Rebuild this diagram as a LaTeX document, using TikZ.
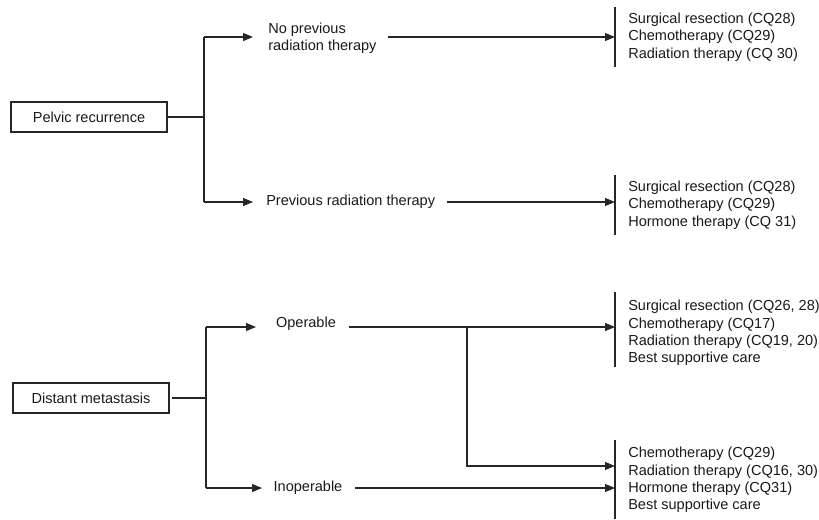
\documentclass[tikz,border=0pt]{standalone}
\usepackage{fontspec}
\setmainfont{Liberation Sans}
\usetikzlibrary{arrows.meta}
\begin{document}
\begin{tikzpicture}[x=0.75pt,y=-0.75pt,
  ln/.style={draw=black!85,line width=0.8pt},
  arr/.style={ln,-{Triangle[length=7.5pt,width=6pt]}},
  box/.style={draw=black!85,line width=0.8pt,minimum width=117pt,minimum height=22.5pt,inner sep=0pt,font=\fontsize{10.9}{13.1}\selectfont,text=black!90},
  lbl/.style={inner sep=0pt,align=left,font=\fontsize{10.9}{13.1}\selectfont,text=black!90}]
\useasboundingbox (0,0) rectangle (819,519);
% ---------- Pelvic recurrence ----------
\node[box] (pelvic) at (89,117) {Pelvic recurrence};
\coordinate (pj) at (204,117);
\coordinate (pt) at (204,37);
\coordinate (pb) at (204,202);
\coordinate (pta) at (253,37);
\coordinate (pba) at (253,202);
\node[lbl,anchor=west] (nprt) at (268,38) {No previous\\radiation therapy};
\node[lbl,anchor=west] (prt) at (266,202) {Previous radiation therapy};
\coordinate (l1s) at (388,37);
\coordinate (l1e) at (615,37);
\coordinate (l2s) at (447,202);
\coordinate (l2e) at (615,202);
\coordinate (b1t) at (615,7);
\coordinate (b1b) at (615,67);
\coordinate (b2t) at (615,175);
\coordinate (b2b) at (615,235);
\node[lbl,anchor=west] (r1) at (628,37) {Surgical resection (CQ28)\\Chemotherapy (CQ29)\\Radiation therapy (CQ 30)};
\node[lbl,anchor=west] (r2) at (628,205) {Surgical resection (CQ28)\\Chemotherapy (CQ29)\\Hormone therapy (CQ 31)};
\draw[ln] (pelvic.east) -- (pj);
\draw[ln] (pt) -- (pb);
\draw[arr] (pt) -- (pta);
\draw[arr] (pb) -- (pba);
\draw[arr] (l1s) -- (l1e);
\draw[arr] (l2s) -- (l2e);
\draw[ln] (b1t) -- (b1b);
\draw[ln] (b2t) -- (b2b);
% ---------- Distant metastasis ----------
\node[box] (dist) at (91,398) {Distant metastasis};
\coordinate (ds) at (172,398);
\coordinate (dj) at (206,398);
\coordinate (dt) at (206,327);
\coordinate (db) at (206,488);
\coordinate (dta) at (256,327);
\coordinate (dba) at (262,488);
\node[lbl] (op) at (306,324) {Operable};
\node[lbl] (inop) at (308,488) {Inoperable};
\coordinate (l3s) at (349,327);
\coordinate (l3e) at (615,327);
\coordinate (l4s) at (355,488);
\coordinate (l4e) at (615,488);
\coordinate (br) at (467,327);
\coordinate (brb) at (467,466);
\coordinate (bre) at (615,466);
\coordinate (b3t) at (615,292);
\coordinate (b3b) at (615,367);
\coordinate (b4t) at (615,440);
\coordinate (b4b) at (615,519);
\node[lbl,anchor=west] (r3) at (628,333) {Surgical resection (CQ26, 28)\\Chemotherapy (CQ17)\\Radiation therapy (CQ19, 20)\\Best supportive care};
\node[lbl,anchor=west] (r4) at (628,480) {Chemotherapy (CQ29)\\Radiation therapy (CQ16, 30)\\Hormone therapy (CQ31)\\Best supportive care};
\draw[ln] (ds) -- (dj);
\draw[ln] (dt) -- (db);
\draw[arr] (dt) -- (dta);
\draw[arr] (db) -- (dba);
\draw[arr] (l3s) -- (l3e);
\draw[arr] (l4s) -- (l4e);
\draw[arr] (br) -- (brb) -- (bre);
\draw[ln] (b3t) -- (b3b);
\draw[ln] (b4t) -- (b4b);
\end{tikzpicture}
\end{document}
